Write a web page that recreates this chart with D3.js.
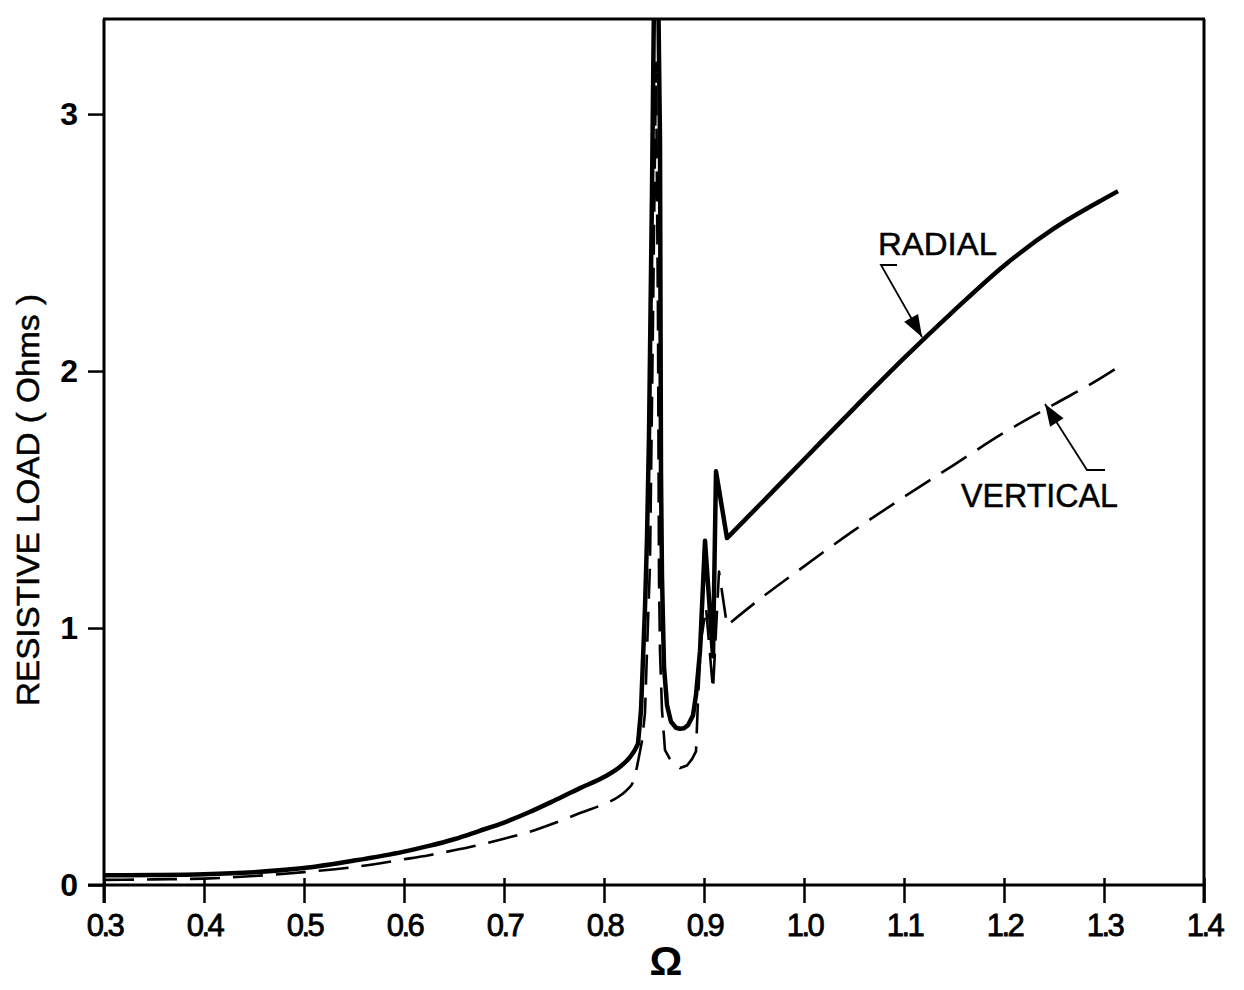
<!DOCTYPE html>
<html><head><meta charset="utf-8">
<script src="https://cdn.jsdelivr.net/npm/d3@7"></script>
<style>
html,body{margin:0;padding:0;background:#fff;}
svg{display:block;}
</style></head>
<body>
<svg id="chart" width="1244" height="990"></svg>
<script>
// ---- data ----
const xTicks = [0.3,0.4,0.5,0.6,0.7,0.8,0.9,1.0,1.1,1.2,1.3,1.4];
const xTickLabels = ["0.3","0.4","0.5","0.6","0.7","0.8","0.9","1.0","1.1","1.2","1.3","1.4"];
const yTicks = [0,1,2,3];
const yTickLabels = ["0","1","2","3"];

const radialOmega = [0.30,0.35,0.40,0.45,0.50,0.55,0.60,0.625,0.65,0.675,0.70,0.725,0.75,0.776,0.80,0.816,0.826,0.830,0.834,0.837,0.839,0.841,0.843,0.845,0.848,0.852,0.856,0.857,0.858,0.860,0.863,0.867,0.872,0.876,0.880,0.884,0.889,0.892,0.896,0.901,0.909,0.912,0.923,0.95,1.0,1.05,1.1,1.15,1.2,1.25,1.3,1.314];
const radialLoad  = [0.038,0.039,0.042,0.050,0.066,0.095,0.130,0.152,0.178,0.210,0.243,0.283,0.328,0.377,0.420,0.460,0.498,0.520,0.550,0.680,0.880,1.080,1.350,1.750,2.700,4.200,2.900,1.600,1.200,0.850,0.700,0.635,0.612,0.608,0.610,0.622,0.660,0.740,0.910,1.340,0.890,1.610,1.350,1.457,1.656,1.855,2.050,2.235,2.410,2.555,2.670,2.700];

const verticalOmega = [0.30,0.35,0.40,0.45,0.50,0.55,0.60,0.625,0.65,0.675,0.70,0.725,0.75,0.776,0.80,0.809,0.823,0.829,0.833,0.836,0.838,0.841,0.843,0.846,0.849,0.852,0.854,0.855,0.856,0.858,0.861,0.866,0.871,0.876,0.883,0.888,0.892,0.894,0.897,0.902,0.909,0.915,0.923,0.95,1.0,1.05,1.1,1.15,1.2,1.25,1.3,1.316];
const verticalLoad  = [0.020,0.022,0.025,0.035,0.050,0.070,0.100,0.116,0.135,0.156,0.180,0.206,0.240,0.280,0.315,0.331,0.370,0.400,0.460,0.520,0.560,0.670,0.910,1.250,2.200,3.200,2.200,1.200,0.910,0.680,0.525,0.490,0.465,0.455,0.465,0.490,0.520,0.720,0.950,1.080,0.760,1.220,1.010,1.095,1.240,1.380,1.510,1.635,1.760,1.870,1.980,2.020];

const xLabel = "Ω";
const yLabel = "RESISTIVE LOAD ( Ohms )";
const seriesNames = ["RADIAL","VERTICAL"];

// ---- layout ----
const svg = d3.select("#chart");
const x = d3.scaleLinear().domain([0.3,1.4]).range([104,1204]);
const y = d3.scaleLinear().domain([0,3.37]).range([885,19]);
const FONT = "'Liberation Sans', Arial, sans-serif";

svg.append("defs").append("clipPath").attr("id","plotclip")
  .append("rect").attr("x",x(0.3)).attr("y",y(3.37)).attr("width",x(1.4)-x(0.3)).attr("height",y(0)-y(3.37));

// frame
const frame = svg.append("g").attr("stroke","#000").attr("stroke-width",3).attr("fill","none");
frame.append("line").attr("x1",x(0.3)-1).attr("x2",x(1.4)+1).attr("y1",y(3.37)).attr("y2",y(3.37));
frame.append("line").attr("x1",x(1.4)).attr("x2",x(1.4)).attr("y1",y(3.37)).attr("y2",y(0)+18);
frame.append("line").attr("x1",x(0.3)).attr("x2",x(0.3)).attr("y1",y(3.37)).attr("y2",y(0)+18);
frame.append("line").attr("x1",x(0.3)-16).attr("x2",x(1.4)).attr("y1",y(0)).attr("y2",y(0));

// x axis
const xAxis = svg.append("g").attr("transform",`translate(0,${y(0)})`)
  .call(d3.axisBottom(x).tickValues(xTicks).tickFormat((d,i)=>xTickLabels[i]).tickSizeOuter(0).tickSize(18).tickPadding(4));
xAxis.select(".domain").remove();
xAxis.selectAll(".tick line").attr("y1",-7).attr("y2",18).attr("stroke","#000").attr("stroke-width",2.5);
xAxis.selectAll(".tick text").attr("font-family",FONT).attr("font-size",31).attr("letter-spacing",-2.5)
  .attr("fill","#000").attr("stroke","#000").attr("stroke-width",0.8).attr("dy","0.95em");

// y axis
const yAxis = svg.append("g").attr("transform",`translate(${x(0.3)},0)`)
  .call(d3.axisLeft(y).tickValues(yTicks).tickFormat((d,i)=>yTickLabels[i]).tickSizeOuter(0).tickSize(16).tickPadding(10));
yAxis.select(".domain").remove();
yAxis.selectAll(".tick line").attr("stroke","#000").attr("stroke-width",2.5);
yAxis.selectAll(".tick text").attr("font-family",FONT).attr("font-size",32).attr("font-weight","bold").attr("fill","#000");

// axis titles
svg.append("text").attr("x",666).attr("y",975).attr("text-anchor","middle")
  .attr("font-family",FONT).attr("font-size",41).attr("font-weight","bold").text(xLabel);
svg.append("text").attr("transform","translate(39,500) rotate(-90)").attr("text-anchor","middle")
  .attr("font-family",FONT).attr("font-size",31).attr("textLength",412).attr("lengthAdjust","spacingAndGlyphs")
  .attr("fill","#000").attr("stroke","#000").attr("stroke-width",0.5).text(yLabel);

// curves: smooth low and high branches, sharp resonance region
function pathFor(om, val, lo, hi){
  const pts = om.map((o,i)=>[o,val[i]]);
  const i1 = om.indexOf(lo), i2 = om.indexOf(hi);
  const smooth = d3.line().x(d=>x(d[0])).y(d=>y(d[1])).curve(d3.curveMonotoneX);
  const sharp = d3.line().x(d=>x(d[0])).y(d=>y(d[1])).curve(d3.curveLinear);
  const a = smooth(pts.slice(0,i1+1));
  const b = sharp(pts.slice(i1,i2+1)).replace(/^M[^L]*/,"");
  const c = smooth(pts.slice(i2)).replace(/^M[^C]*/,"");
  return a + b + c;
}
const plot = svg.append("g").attr("clip-path","url(#plotclip)");
plot.append("path").attr("d",pathFor(radialOmega,radialLoad,0.834,0.923)).attr("fill","none").attr("stroke","#000")
  .attr("stroke-width",4.5).attr("stroke-linejoin","round");
plot.append("path").attr("d",pathFor(verticalOmega,verticalLoad,0.833,0.923)).attr("fill","none").attr("stroke","#000")
  .attr("stroke-width",2.6).attr("stroke-linejoin","round").attr("stroke-dasharray","30,13");

// annotations
function arrow(points, tip){
  svg.append("path").attr("d",d3.line()(points.concat([tip]))).attr("fill","none").attr("stroke","#000").attr("stroke-width",1.8);
  const prev = points[points.length-1];
  const ang = Math.atan2(tip[1]-prev[1], tip[0]-prev[0]);
  const L = 22, W = 8;
  const bx = tip[0]-L*Math.cos(ang), by = tip[1]-L*Math.sin(ang);
  const px = -Math.sin(ang)*W, py = Math.cos(ang)*W;
  svg.append("path").attr("d",`M${tip[0]},${tip[1]}L${bx+px},${by+py}L${bx-px},${by-py}Z`).attr("fill","#000");
}
svg.append("text").attr("x",878).attr("y",255).attr("font-family",FONT).attr("font-size",31)
  .attr("textLength",119).attr("lengthAdjust","spacingAndGlyphs").attr("stroke","#000").attr("stroke-width",0.5).text(seriesNames[0]);
arrow([[897,265],[881,265]],[922,337]);
svg.append("text").attr("x",961).attr("y",507).attr("font-family",FONT).attr("font-size",34)
  .attr("textLength",157).attr("lengthAdjust","spacingAndGlyphs").attr("stroke","#000").attr("stroke-width",0.5).text(seriesNames[1]);
arrow([[1105,470],[1087,470]],[1045,404]);
</script>
</body></html>
